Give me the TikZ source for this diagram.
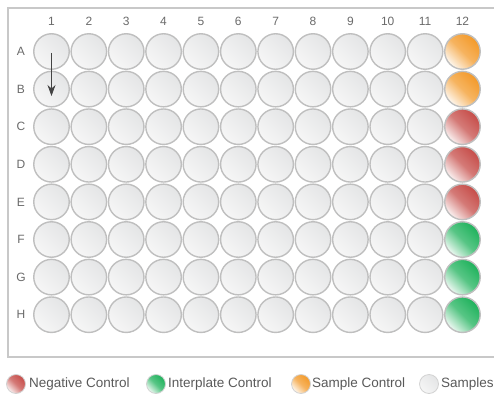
\documentclass[tikz,border=0pt]{standalone}
\usepackage{fontspec}
\setmainfont{Liberation Sans}
\usetikzlibrary{arrows.meta}
\definecolor{wellgray}{HTML}{E4E5E6}
\definecolor{welllight}{HTML}{F6F6F6}
\definecolor{wellborder}{HTML}{BFBFBF}
\definecolor{framec}{HTML}{C8C8C8}
\definecolor{orangec}{HTML}{F39A2A}
\definecolor{redc}{HTML}{C64D49}
\definecolor{greenc}{HTML}{1FB25C}
\definecolor{labelc}{HTML}{6A6A6A}
\definecolor{legendc}{HTML}{595959}
\definecolor{arrowc}{HTML}{444444}
\tikzset{
  wellbase/.style={circle, inner sep=0pt,
    top color=#1, bottom color=#1!8!white, middle color=#1!75!white, shading angle=-45},
  graybase/.style={circle, inner sep=0pt,
    top color=wellgray, bottom color=welllight, shading angle=-45},
  well/.style={wellbase=#1, minimum size=35.5pt, draw=wellborder, line width=1.4pt},
  graywell/.style={graybase, minimum size=35.5pt, draw=wellborder, line width=1.4pt},
  legwell/.style={wellbase=#1, minimum size=19pt, draw=wellborder!70!white, line width=0.8pt},
  leggray/.style={graybase, minimum size=19pt, draw=wellborder!70!white, line width=0.8pt},
  collabel/.style={text=labelc, font=\fontsize{12}{14}\selectfont, inner sep=0pt},
  legtext/.style={text=legendc, font=\fontsize{13.5}{16}\selectfont, inner sep=0pt, anchor=west},
}
\begin{document}
\begin{tikzpicture}[x=1pt,y=-1pt]
\useasboundingbox (0,0) rectangle (494,393);
\clip (0,0) rectangle (494,393);
\draw[framec, line width=1.3pt] (8,8) rectangle (530,357);
\foreach \c in {1,...,12}
  \node[collabel] (c\c) at ({51.5+(\c-1)*37.36},21) {\c};
\foreach \l/\col [count=\r] in {A/orangec,B/orangec,C/redc,D/redc,E/redc,F/greenc,G/greenc,H/greenc} {
  \node[collabel] (r\l) at (21,{51.5+(\r-1)*37.6}) {\l};
  \foreach \c in {1,...,11}
    \node[graywell] (w\l\c) at ({51.5+(\c-1)*37.36},{51.5+(\r-1)*37.6}) {};
  \node[well=\col] (w\l12) at ({51.5+11*37.36},{51.5+(\r-1)*37.6}) {};
}
\coordinate (arrS) at (51.5,53);
\coordinate (arrE) at (51.5,96);
\draw[arrowc, line width=1pt, -{Stealth[length=11pt,width=8pt]}] (arrS) -- (arrE);
% legend
\node[legwell=redc] (lr) at (16,384) {};
\node[legtext] (tr) at (29,384) {Negative Control};
\node[legwell=greenc] (lg) at (156,384) {};
\node[legtext] (tg) at (168,384) {Interplate Control};
\node[legwell=orangec] (lo) at (301,384) {};
\node[legtext] (to) at (312,384) {Sample Control};
\node[leggray] (ls) at (429,384) {};
\node[legtext] (ts) at (441,384) {Samples};
\end{tikzpicture}
\end{document}
